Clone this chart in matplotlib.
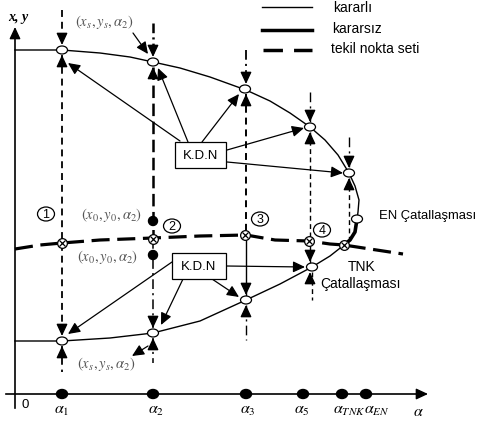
import matplotlib.pyplot as plt
from matplotlib.patches import Ellipse, Rectangle

plt.rcParams['mathtext.fontset'] = 'stix'
plt.rcParams['lines.scale_dashes'] = False
SANS = 'Liberation Sans'

# drawing units: x to the right, y downwards
upper_x = [15, 62, 100, 130, 153, 180, 210, 246, 270, 290, 310, 325, 338, 349, 355, 359, 358, 357]
upper_y = [50, 50, 53, 57, 62, 68, 77, 90, 101, 113, 127, 140, 155, 173, 186, 200, 212, 219]
unstable_x = [357, 355, 350, 344]
unstable_y = [219, 232, 240, 245]
lower_x = [15, 62, 110, 153, 200, 246, 280, 312, 330, 344]
lower_y = [341, 341, 338, 333, 321, 300, 284, 267, 256, 245]
sing_x = [15, 40, 62, 100, 153, 200, 246, 275, 309, 330, 344, 370, 403]
sing_y = [249, 245, 243, 240, 238, 236, 235, 240, 241, 244, 245, 249, 254]

# alpha values on the horizontal axis
axis_x = [62, 153, 246, 303, 342, 366]
axis_lbl_x = [62, 156, 248, 302, 349, 377, 418]
axis_lbl = [r'$\alpha_1$', r'$\alpha_2$', r'$\alpha_3$', r'$\alpha_5$',
            r'$\alpha_{TNK}$', r'$\alpha_{EN}$', r'$\alpha$']

# solution points found for each alpha
open_x = [62, 153, 245, 310, 349, 357, 62, 153, 246, 312]
open_y = [50, 62, 89, 127, 173, 219, 341, 333, 300, 267]
cross_x = [62, 153, 245, 309, 344]
cross_y = [243, 239, 235, 241, 245]
start_x = [153, 153]
start_y = [221, 255]

# K.D.N boxes and their arrows
kdn_boxes = [(175, 142, 51, 26), (172, 253, 54, 26)]
kdn_tails = [(180, 141), (188, 142), (202, 142), (227, 150), (227, 162),
             (172, 262), (183, 279), (212, 279), (226, 266)]
kdn_tips = [(68, 63), (158, 68), (239, 94), (304, 128), (343, 173),
            (68, 334), (161, 325), (239, 297), (305, 267)]

circ_lbl = ['1', '2', '3', '4']
circ_x = [46, 172, 260, 322]
circ_y = [214, 226, 219, 230]

fig = plt.figure(figsize=(4.8, 4.28), dpi=100)
ax = fig.add_axes([0, 0, 1, 1])
ax.set_xlim(0, 480)
ax.set_ylim(428, 0)
ax.axis('off')


def head(x, y, dx, dy, lw=1.0):
    # small filled arrowhead with its tip at (x, y)
    ax.annotate('', xy=(x, y), xytext=(x - 9 * dx, y - 9 * dy),
                arrowprops=dict(arrowstyle='-|>,head_length=0.6,head_width=0.28',
                                color='k', lw=lw, shrinkA=0, shrinkB=0,
                                mutation_scale=12), zorder=4)


def arrow(tail, tip):
    ax.annotate('', xy=tip, xytext=tail,
                arrowprops=dict(arrowstyle='-|>,head_length=0.6,head_width=0.28',
                                color='k', lw=0.9, shrinkA=0, shrinkB=0,
                                mutation_scale=12), zorder=4)


# axes
ax.plot([15, 15], [408, 36], color='k', lw=1.2)
head(15, 27, 0, -1)
ax.plot([6, 420], [394, 394], color='k', lw=1.2)
head(428, 394, 1, 0)
ax.text(8, 17, 'x, y', fontfamily='Liberation Serif', fontstyle='italic',
        fontweight='bold', fontsize=10, va='center')
ax.text(21, 405, '0', fontfamily=SANS, fontsize=9.5, va='center')
for x in axis_x:
    ax.add_patch(Ellipse((x, 394), 11, 9, fc='k', ec='k', zorder=5))
for x, t in zip(axis_lbl_x, axis_lbl):
    ax.text(x, 411, t, fontsize=11.5, ha='center', va='center')

# branches
ax.plot(upper_x, upper_y, color='k', lw=1.0)
ax.plot(lower_x, lower_y, color='k', lw=1.0)
ax.plot(unstable_x, unstable_y, color='k', lw=2.6, solid_capstyle='butt')
ax.plot(sing_x, sing_y, color='k', lw=2.3, linestyle=(0, (13, 5.5)))

# vertical search lines
dashdot = (0, (7, 3, 1.5, 3))
long_dash = (0, (5, 3.5))
thick_dash = (0, (9, 4))
thin_dash = (0, (3.5, 2.5))
segments = [
    (62, 10, 45, long_dash, 1.3), (62, 55, 336, long_dash, 1.3), (62, 346, 372, long_dash, 1.3),
    (153, 23, 57, dashdot, 1.8), (153, 67, 239, thick_dash, 1.8),
    (153, 239, 328, dashdot, 1.1), (153, 338, 363, dashdot, 1.1),
    (246, 50, 84, dashdot, 1.3), (246, 94, 235, long_dash, 1.4),
    (246, 235, 295, 'solid', 1.0), (246, 305, 340, dashdot, 1.0),
    (310, 92, 122, dashdot, 1.0), (310, 132, 241, thin_dash, 1.0),
    (310, 241, 262, 'solid', 1.0), (312, 272, 300, thin_dash, 1.0),
    (349, 137, 168, dashdot, 1.0), (349, 178, 242, thin_dash, 1.0),
]
for x, y0, y1, ls, lw in segments:
    ax.plot([x, x], [y0, y1], color='k', lw=lw, linestyle=ls)

for x, yu, yl in [(62, 50, 341), (153, 62, 333), (246, 89, 300), (310, 127, 267)]:
    head(x, yu - 5, 0, 1)
    head(x, yu + 5, 0, -1)
    head(x, yl - 5, 0, 1)
    head(x, yl + 5, 0, -1)
head(349, 168, 0, 1)
head(349, 178, 0, -1)

# points
for x, y in zip(open_x, open_y):
    ax.add_patch(Ellipse((x, y), 11, 8, fc='white', ec='k', lw=0.9, zorder=6))
ax.plot(cross_x, cross_y, 'o', ms=7, mfc='white', mec='k', mew=0.9, zorder=6)
ax.plot(cross_x, cross_y, 'x', ms=4.5, mec='k', mew=0.9, zorder=7)
for x, y in zip(start_x, start_y):
    ax.add_patch(Ellipse((x, y), 9, 9, fc='k', ec='k', zorder=6))

# K.D.N
for x, y, w, h in kdn_boxes:
    ax.add_patch(Rectangle((x, y), w, h, fc='white', ec='k', lw=0.9, zorder=5))
    ax.text(x + w / 2, y + h / 2 + 1, 'K.D.N', fontfamily=SANS, fontsize=9.5,
            ha='center', va='center', zorder=6)
for tail, tip in zip(kdn_tails, kdn_tips):
    arrow(tail, tip)

# numbered cases
for t, x, y in zip(circ_lbl, circ_x, circ_y):
    ax.add_patch(Ellipse((x, y), 17, 14, fc='white', ec='k', lw=0.9, zorder=5))
    ax.text(x, y + 0.5, t, fontfamily=SANS, fontsize=9, ha='center', va='center', zorder=6)

# point labels
grey = '#555555'
ax.text(104, 22, r'$(x_s, y_s, \alpha_2)$', color=grey, fontsize=10.5, ha='center', va='center')
arrow((133, 33), (148, 54))
ax.text(112, 215, r'$(x_0, y_0, \alpha_2)$', color=grey, fontsize=10.5, ha='center', va='center')
ax.text(108, 257, r'$(x_0, y_0, \alpha_2)$', color=grey, fontsize=10.5, ha='center', va='center')
ax.text(106, 364, r'$(x_s, y_s, \alpha_2)$', color=grey, fontsize=10.5, ha='center', va='center')
arrow((148, 346), (132, 356))

ax.text(379, 216, 'EN Çatallaşması', fontfamily=SANS, fontsize=9.4, va='center')
ax.text(348, 267, 'TNK', fontfamily=SANS, fontsize=10, va='center')
ax.text(320, 284, 'Çatallaşması', fontfamily=SANS, fontsize=10, va='center')

# legend
ax.plot([262, 312], [7, 7], color='k', lw=1.0)
ax.plot([262, 312], [30, 30], color='k', lw=2.5)
ax.plot([263, 312], [50, 50], color='k', lw=2.5, linestyle=(0, (14, 8)))
ax.text(333, 8, 'kararlı', fontfamily=SANS, fontsize=10, va='center')
ax.text(332, 29, 'kararsız', fontfamily=SANS, fontsize=10, va='center')
ax.text(331, 49, 'tekil nokta seti', fontfamily=SANS, fontsize=10, va='center')

fig.savefig('out.png', dpi=100)
